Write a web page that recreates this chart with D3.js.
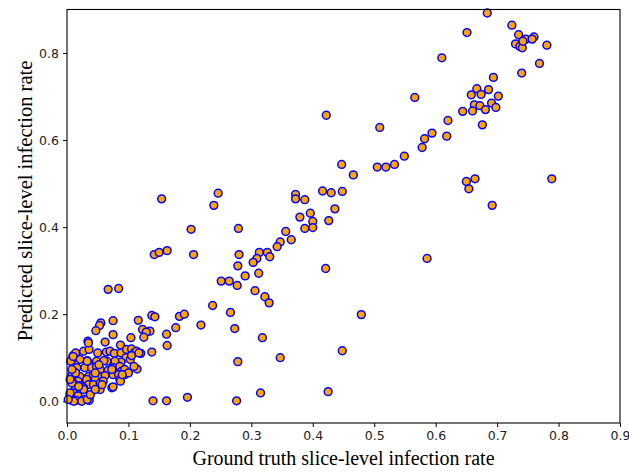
<!DOCTYPE html>
<html>
<head>
<meta charset="utf-8">
<script src="https://cdn.jsdelivr.net/npm/d3@7"></script>
<style>
  html, body { margin: 0; padding: 0; background: #fff; }
  svg { display: block; }
</style>
</head>
<body>
<svg id="chart" width="629" height="472"></svg>
<script>
// [ground truth, predicted]
const samples = [
  [0.684,0.892],[0.724,0.864],[0.651,0.847],[0.735,0.842],[0.747,0.832],[0.760,0.837],[0.757,0.832],
  [0.730,0.821],[0.737,0.815],[0.741,0.812],[0.742,0.827],[0.781,0.818],[0.610,0.789],[0.769,0.776],
  [0.740,0.754],[0.694,0.744],[0.667,0.718],[0.658,0.704],[0.674,0.705],[0.686,0.716],[0.702,0.701],
  [0.566,0.698],[0.663,0.681],[0.672,0.679],[0.660,0.667],[0.681,0.670],[0.691,0.685],[0.698,0.675],
  [0.644,0.666],[0.676,0.635],[0.620,0.645],[0.509,0.629],[0.594,0.616],[0.582,0.603],[0.618,0.609],
  [0.578,0.583],[0.549,0.563],[0.533,0.544],[0.519,0.538],[0.505,0.538],[0.447,0.544],[0.466,0.520],
  [0.650,0.505],[0.664,0.511],[0.654,0.488],[0.789,0.511],[0.692,0.450],[0.586,0.328],[0.422,0.657],
  [0.372,0.475],[0.372,0.465],[0.387,0.463],[0.416,0.483],[0.430,0.479],[0.448,0.482],[0.436,0.442],
  [0.396,0.432],[0.379,0.423],[0.400,0.413],[0.426,0.415],[0.387,0.397],[0.400,0.399],[0.365,0.371],
  [0.421,0.305],[0.356,0.390],[0.347,0.366],[0.342,0.355],[0.313,0.342],[0.326,0.342],[0.330,0.332],
  [0.309,0.328],[0.303,0.319],[0.280,0.337],[0.278,0.311],[0.290,0.288],[0.312,0.294],[0.251,0.276],
  [0.264,0.276],[0.277,0.266],[0.306,0.254],[0.322,0.240],[0.329,0.226],[0.237,0.220],[0.266,0.204],
  [0.479,0.199],[0.154,0.465],[0.246,0.478],[0.239,0.450],[0.202,0.395],[0.279,0.397],[0.142,0.337],
  [0.150,0.342],[0.163,0.346],[0.206,0.337],[0.067,0.257],[0.084,0.259],[0.138,0.197],[0.143,0.194],
  [0.183,0.195],[0.191,0.200],[0.218,0.175],[0.273,0.167],[0.177,0.169],[0.162,0.154],[0.163,0.128],
  [0.135,0.161],[0.138,0.113],[0.318,0.146],[0.278,0.091],[0.347,0.100],[0.448,0.116],[0.315,0.019],
  [0.425,0.022],[0.140,0.001],[0.162,0.001],[0.196,0.009],[0.276,0.001],
  [0.055,0.180],[0.053,0.174],[0.075,0.185],[0.116,0.186],[0.047,0.162],[0.075,0.153],[0.123,0.165],
  [0.129,0.159],[0.125,0.147],[0.104,0.146],[0.034,0.138],[0.062,0.136],[0.087,0.129],
  [0.010,0.105],[0.027,0.115],[0.036,0.119],[0.050,0.111],[0.064,0.113],[0.070,0.115],[0.077,0.110],
  [0.088,0.111],[0.097,0.119],[0.105,0.120],[0.109,0.111],[0.113,0.115],[0.120,0.110],[0.096,0.100],
  [0.103,0.096],[0.105,0.105],[0.088,0.090],[0.078,0.092],[0.065,0.092],[0.060,0.093],[0.048,0.092],
  [0.033,0.093],[0.021,0.096],[0.008,0.092],[0.013,0.084],[0.016,0.077],[0.029,0.077],[0.040,0.077],
  [0.048,0.080],[0.054,0.073],[0.067,0.071],[0.075,0.077],[0.086,0.080],[0.089,0.069],[0.094,0.073],
  [0.114,0.074],[0.010,0.069],[0.008,0.059],[0.021,0.057],[0.035,0.057],[0.043,0.061],[0.054,0.056],
  [0.062,0.059],[0.075,0.061],[0.084,0.061],[0.094,0.061],[0.046,0.050],[0.032,0.050],[0.018,0.046],
  [0.010,0.042],[0.021,0.036],[0.035,0.038],[0.043,0.038],[0.054,0.042],[0.059,0.046],[0.086,0.050],
  [0.073,0.031],[0.075,0.033],[0.054,0.027],[0.013,0.027],[0.027,0.031],[0.005,0.015],[0.010,0.019],
  [0.018,0.012],[0.027,0.004],[0.036,0.008],[0.008,0.002],[0.015,0.002],[0.036,0.002],
  [0.008,0.042],[0.005,0.019],[0.011,0.000],[0.024,0.000],[0.033,0.004],[0.038,0.015],[0.027,0.027],
  [0.019,0.034],[0.046,0.027],[0.087,0.046],[0.057,0.038],[0.014,0.065],[0.008,0.096],[0.014,0.111],
  [0.035,0.134],[0.117,0.111],[0.109,0.080],[0.100,0.065],[0.090,0.061],[0.073,0.073],[0.046,0.065],
  [0.052,0.084],[0.033,0.092],[0.006,0.092],[0.008,0.073],[0.005,0.050],[0.002,0.004],[0.010,0.103]
];

const xTicks = [0.0, 0.1, 0.2, 0.3, 0.4, 0.5, 0.6, 0.7, 0.8, 0.9];
const yTicks = [0.0, 0.2, 0.4, 0.6, 0.8];
const xDomain = [0, 0.9];
const yDomain = [-0.05, 0.9];
const xLabel = "Ground truth slice-level infection rate";
const yLabel = "Predicted slice-level infection rate";

const plot = { left: 67, right: 620, top: 9.5, bottom: 423 };

const svg = d3.select("#chart");
const x = d3.scaleLinear().domain(xDomain).range([plot.left, plot.right]);
const y = d3.scaleLinear().domain(yDomain).range([plot.bottom, plot.top]);

const fmt = d3.format(".1f");

const xAxis = svg.append("g")
  .attr("transform", `translate(0,${plot.bottom})`)
  .call(d3.axisBottom(x).tickValues(xTicks).tickFormat(fmt).tickSize(4).tickPadding(4));
const yAxis = svg.append("g")
  .attr("transform", `translate(${plot.left},0)`)
  .call(d3.axisLeft(y).tickValues(yTicks).tickFormat(fmt).tickSize(4).tickPadding(4));

[xAxis, yAxis].forEach(g => {
  g.select(".domain").remove();
  g.selectAll(".tick line").attr("stroke", "#000").attr("stroke-width", 1);
  g.selectAll(".tick text")
    .attr("fill", "#222")
    .style("font-family", "'DejaVu Sans', sans-serif")
    .style("font-size", "12.5px");
});

svg.append("g")
  .selectAll("circle")
  .data(samples)
  .join("circle")
  .attr("cx", d => x(d[0]))
  .attr("cy", d => y(d[1]))
  .attr("r", 3.9)
  .attr("fill", "#FFA500")
  .attr("stroke", "#0000FF")
  .attr("stroke-width", 1.5);

svg.append("rect")
  .attr("x", plot.left)
  .attr("y", plot.top)
  .attr("width", plot.right - plot.left)
  .attr("height", plot.bottom - plot.top)
  .attr("fill", "none")
  .attr("stroke", "#000")
  .attr("stroke-width", 1.1);

svg.append("text")
  .attr("x", (plot.left + plot.right) / 2)
  .attr("y", 465)
  .attr("text-anchor", "middle")
  .style("font-family", "'Liberation Serif', 'Times New Roman', serif")
  .style("font-size", "20px")
  .attr("fill", "#000")
  .text(xLabel);

svg.append("text")
  .attr("transform", `translate(32,201) rotate(-90)`)
  .attr("text-anchor", "middle")
  .style("font-family", "'Liberation Serif', 'Times New Roman', serif")
  .style("font-size", "20.5px")
  .attr("fill", "#000")
  .text(yLabel);
</script>
</body>
</html>
